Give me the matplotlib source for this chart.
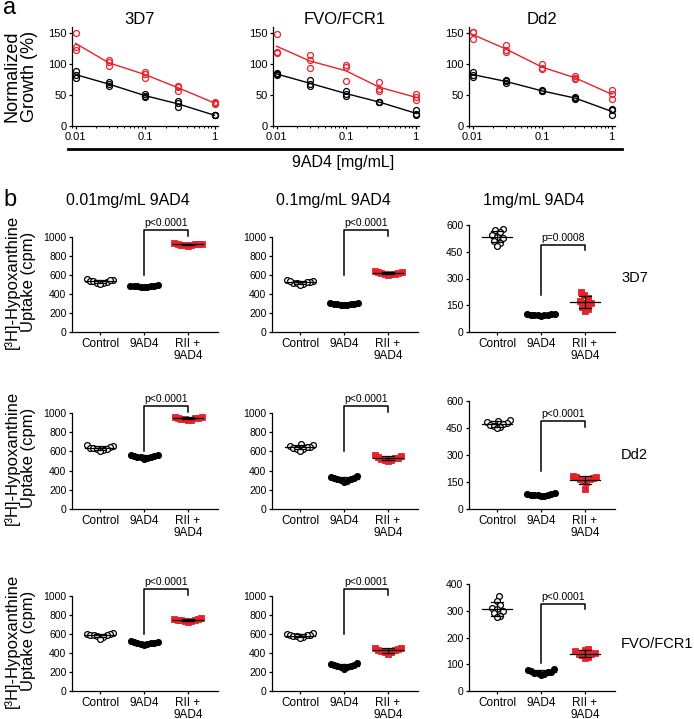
import numpy as np
import matplotlib
matplotlib.use("Agg")
import matplotlib.pyplot as plt
from matplotlib.lines import Line2D

plt.rcParams["font.family"] = ["Liberation Sans", "DejaVu Sans"]

# =========================
# Data - panel a (3 replicates per concentration)
# =========================
conc = [0.01, 0.03, 0.1, 0.3, 1]
a_titles = ["3D7", "FVO/FCR1", "Dd2"]

a_3d7_9ad4 = [[88, 83, 78], [71, 67, 65], [51, 49, 47], [40, 30, 37], [18, 17, 17]]
a_3d7_rii = [[150, 127, 123], [106, 104, 96], [87, 84, 78], [65, 63, 57], [38, 36, 37]]
a_fvo_9ad4 = [[86, 84, 82], [74, 68, 65], [57, 52, 48], [39, 38, 39], [26, 19, 17]]
a_fvo_rii = [[148, 120, 118], [115, 107, 93], [99, 95, 73], [71, 60, 57], [51, 46, 42]]
a_dd2_9ad4 = [[87, 83, 79], [74, 72, 70], [58, 56, 56], [47, 45, 43], [28, 25, 18]]
a_dd2_rii = [[152, 151, 140], [131, 122, 120], [100, 93, 92], [80, 78, 75], [58, 52, 44]]

# =========================
# Data - panel b (cpm)
# =========================
groups = ["Control", "9AD4", "RII +\n9AD4"]
b_cols = ["0.01mg/mL 9AD4", "0.1mg/mL 9AD4", "1mg/mL 9AD4"]
b_rows = ["3D7", "Dd2", "FVO/FCR1"]
p_texts = [["p<0.0001", "p<0.0001", "p=0.0008"],
           ["p<0.0001", "p<0.0001", "p<0.0001"],
           ["p<0.0001", "p<0.0001", "p<0.0001"]]

b_3d7_001 = [[560, 548, 540, 535, 528, 520, 512, 505, 545],
             [492, 488, 484, 480, 478, 476, 485, 482, 470],
             [935, 928, 922, 918, 915, 912, 920, 908, 925]]
b_3d7_01 = [[548, 540, 530, 525, 520, 515, 505, 498, 535],
            [305, 300, 296, 292, 290, 288, 285, 298, 280],
            [645, 635, 628, 620, 615, 610, 605, 600, 625]]
b_3d7_1 = [[580, 570, 560, 545, 535, 525, 510, 500, 485],
           [102, 100, 98, 97, 96, 95, 94, 92, 99],
           [222, 205, 190, 175, 165, 160, 140, 130, 120]]
b_dd2_001 = [[665, 655, 648, 640, 635, 628, 620, 612, 605],
             [565, 558, 552, 548, 545, 542, 538, 532, 525],
             [962, 955, 950, 947, 945, 942, 938, 932, 925]]
b_dd2_01 = [[680, 668, 658, 650, 645, 640, 630, 620, 605],
            [345, 335, 325, 318, 312, 308, 302, 295, 285],
            [565, 550, 540, 532, 528, 522, 515, 508, 495]]
b_dd2_1 = [[495, 488, 482, 476, 472, 468, 462, 455, 448],
           [88, 85, 82, 80, 79, 78, 76, 74, 72],
           [182, 180, 176, 172, 168, 165, 160, 150, 112]]
b_fvo_001 = [[612, 600, 595, 590, 588, 585, 580, 570, 545],
             [525, 518, 512, 508, 505, 502, 498, 495, 488],
             [765, 758, 752, 748, 745, 742, 738, 732, 728]]
b_fvo_01 = [[605, 598, 592, 588, 585, 580, 575, 568, 555],
            [290, 282, 275, 270, 265, 260, 255, 248, 235],
            [455, 450, 442, 435, 430, 425, 415, 405, 385]]
b_fvo_1 = [[355, 335, 322, 310, 305, 300, 290, 280, 275],
           [82, 78, 75, 72, 70, 68, 66, 62, 58],
           [158, 152, 148, 143, 140, 137, 133, 128, 122]]

b_data = [[b_3d7_001, b_3d7_01, b_3d7_1],
          [b_dd2_001, b_dd2_01, b_dd2_1],
          [b_fvo_001, b_fvo_01, b_fvo_1]]

# bracket heights (left leg bottom, top, right leg bottom) for the 1 mg/mL column
br_last = [(210, 490, 460), (210, 490, 455), (105, 325, 305)]
br_big = (600, 1075, 1010)

# =========================
# Layout helpers (pixels)
# =========================
W, H = 694, 719
RED = "#e8212b"

fig = plt.figure(figsize=(W / 100, H / 100), dpi=100)


def box(left, top, right, bottom):
    return [left / W, 1 - bottom / H, (right - left) / W, (bottom - top) / H]


def style(ax, fs):
    for s in ["top", "right"]:
        ax.spines[s].set_visible(False)
    for s in ["left", "bottom"]:
        ax.spines[s].set_linewidth(0.9)
    ax.tick_params(direction="out", length=2.5, width=0.9, labelsize=fs, pad=1.5)
    ax.patch.set_alpha(0)


def swarm(vals, px_y, d, k=0.45):
    # beeswarm in pixel space, vertical distance weighted by k
    vals = np.asarray(vals, float)
    order = np.argsort(vals)
    placed = []
    offs = np.zeros(len(vals))
    for i in order:
        y = vals[i] * px_y * k
        cands = [0.0]
        for px, py in placed:
            dy = y - py
            if abs(dy) < d:
                dx = np.sqrt(d * d - dy * dy)
                cands += [px + dx, px - dx]
        cands.sort(key=abs)
        c = cands[-1]
        for c in cands:
            if all((c - px) ** 2 + (y - py) ** 2 >= d * d - 1e-6 for px, py in placed):
                break
        placed.append((c, y))
        offs[i] = c
    return offs

# =========================
# Panel a
# =========================
decade = 69.5
lo = -2 - 3.5 / decade
hi = lo + 146 / decade
a_lefts = [72, 273, 469]
a_sets = [(a_3d7_9ad4, a_3d7_rii), (a_fvo_9ad4, a_fvo_rii), (a_dd2_9ad4, a_dd2_rii)]
a_title_x = [140, 345, 542]

for k, (left, (blk, red)) in enumerate(zip(a_lefts, a_sets)):
    ax = fig.add_axes(box(left, 26.8, left + 146, 126))
    for reps, col in [(blk, "black"), (red, RED)]:
        reps = np.array(reps, float)
        ax.plot(conc, reps.mean(axis=1), color=col, lw=1.0, zorder=2)
        for j in range(reps.shape[1]):
            ax.plot(conc, reps[:, j], "o", mfc="none", mec=col, ms=4.3, mew=0.9,
                    clip_on=False, zorder=3)
    ax.set_xscale("log")
    ax.set_xlim(10 ** lo, 10 ** hi)
    ax.set_ylim(0, 160)
    ax.set_yticks([0, 50, 100, 150])
    ax.set_xticks([0.01, 0.1, 1])
    ax.set_xticklabels(["0.01", "0.1", "1"])
    style(ax, 8)
    ax.tick_params(axis="x", which="minor", length=1.5, width=0.7)
    fig.text(a_title_x[k] / W, 1 - 20 / H, a_titles[k], ha="center", va="center", fontsize=12)

fig.text(21 / W, 1 - 76 / H, "Normalized\nGrowth (%)", rotation=90, ha="center", va="center",
         fontsize=13, linespacing=1.05, multialignment="center")
fig.text(3 / W, 1 - 14 / H, "a", fontsize=17, va="baseline")
fig.add_artist(Line2D([68 / W, 622 / W], [1 - 149 / H, 1 - 149 / H], color="black", lw=2.0))
fig.text(343 / W, 1 - 163 / H, "9AD4 [mg/mL]", ha="center", va="center", fontsize=11.5)

# =========================
# Panel b
# =========================
fig.text(3 / W, 1 - 206 / H, "b", fontsize=17, va="baseline")
b_title_x = [128, 333, 534]
for c in range(3):
    fig.text(b_title_x[c] / W, 1 - 201 / H, b_cols[c], ha="center", va="center", fontsize=11.5)

b_lefts = [72, 272, 469]
b_rowbox = [(225, 332), (401, 509), (584, 691)]
b_row_label_y = [278, 455, 644]
x_lo, x_hi = -28 / 44, 118 / 44
styles = [dict(marker="o", mfc="white", mec="black", ms=4.2, mew=0.9),
          dict(marker="o", mfc="black", mec="black", ms=4.2, mew=0.9),
          dict(marker="s", mfc=RED, mec=RED, ms=3.9, mew=0.6)]

for r in range(3):
    top, bottom = b_rowbox[r]
    for c in range(3):
        left = b_lefts[c]
        ax = fig.add_axes(box(left, top, left + 146, bottom))
        data = b_data[r][c]
        if c < 2:
            ymax, yticks = 1125, [0, 200, 400, 600, 800, 1000]
            ax.spines["left"].set_bounds(0, 1000)
            b1, b2, b3 = br_big
        else:
            ymax = 600 if r < 2 else 400
            yticks = [0, 150, 300, 450, 600] if r < 2 else [0, 100, 200, 300, 400]
            b1, b2, b3 = br_last[r]
        ax.set_ylim(0, ymax)
        ax.set_xlim(x_lo, x_hi)
        px_y = (bottom - top) / ymax
        px_x = 146 / (x_hi - x_lo)
        for g, vals in enumerate(data):
            offs = swarm(vals, px_y, 3.4)
            ax.plot(g + offs / px_x, vals, ls="none", clip_on=False, zorder=2, **styles[g])
            m = np.mean(vals)
            s = np.std(vals, ddof=1)
            ax.plot([g - 0.33, g + 0.33], [m, m], color="black", lw=0.9, zorder=3)
            ax.plot([g, g], [m - s, m + s], color="black", lw=0.9, zorder=3)
            for yy in (m - s, m + s):
                ax.plot([g - 0.14, g + 0.14], [yy, yy], color="black", lw=0.9, zorder=3)
        # significance bracket
        ax.plot([1, 1, 2, 2], [b1, b2, b2, b3], color="black", lw=1.1, clip_on=False)
        ax.text(1.5, b2 + ymax * 0.015, p_texts[r][c], ha="center", va="bottom", fontsize=7.5)
        ax.set_yticks(yticks)
        ax.set_xticks([0, 1, 2])
        ax.set_xticklabels(groups, linespacing=1.1)
        style(ax, 7.5)
        ax.tick_params(axis="x", labelsize=8.5)
    mid = (top + bottom) / 2
    fig.text(20 / W, 1 - (mid + 3) / H, "[³H]-Hypoxanthine\nUptake (cpm)", rotation=90, ha="center",
             va="center", fontsize=12, linespacing=1.05, multialignment="center")
    fig.text(621 / W, 1 - b_row_label_y[r] / H, b_rows[r], ha="left", va="center", fontsize=10.5)

fig.savefig("out.png", dpi=100)
